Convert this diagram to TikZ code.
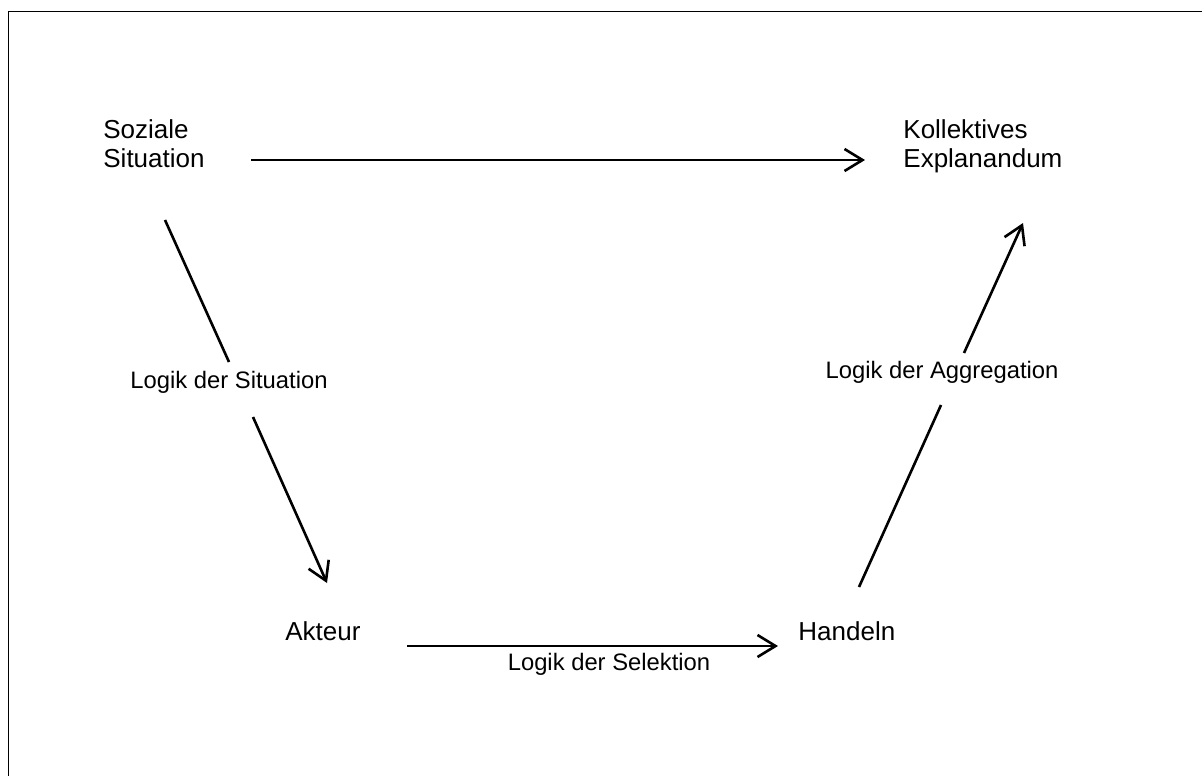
\documentclass[tikz,border=0pt]{standalone}
\usepackage{fontspec}
\setmainfont{Liberation Sans}
\usetikzlibrary{arrows.meta}
\tikzset{
  Linie/.style={line width=1.3pt}, % für Verbindungslinien
  Pfeil/.style={Linie,-{Straight Barb[length=9pt,width=11pt]}}, % für Pfeile
  Begriff/.style={anchor=base west,inner sep=0pt,align=left,
    font=\fontsize{13}{14.5}\selectfont}, % für die vier Begriffe
  Logik/.style={anchor=base,inner sep=0pt,font=\fontsize{11.9}{13}\selectfont} % für die Beschriftungen
}

\begin{document}
\begin{tikzpicture}[x=0.5pt,y=-0.5pt]
\useasboundingbox (0,0) rectangle (1202,776);

%Rahmen
\draw[line width=0.5pt] (8,776) -- (8,11) -- (1202,11);

%Begriffe (base = Grundlinie der letzten Zeile)
\node[Begriff] (SozSit) at (103,167) {Soziale\\Situation};
\node[Begriff] (KollExp) at (903,167) {Kollektives\\Explanandum};
\node[Begriff] (Akteur) at (285,640) {Akteur};
\node[Begriff] (Handeln) at (798,640) {Handeln};

%Beschriftungen
\node[Logik] (LogSit) at (229,388) {Logik der Situation};
\node[Logik] (LogSel) at (609,670) {Logik der Selektion};
\node[Logik] (LogAgg) at (942,378) {Logik der Aggregation};

%Endpunkte der Pfeile
\coordinate (oben-a) at (251,160);
\coordinate (oben-b) at (865,160);
\coordinate (unten-a) at (407,646);
\coordinate (unten-b) at (778,646);
\coordinate (sit-a) at (165,220);
\coordinate (sit-b) at (229,362);
\coordinate (sit-c) at (253,417);
\coordinate (sit-d) at (327,583);
\coordinate (agg-a) at (859,587);
\coordinate (agg-b) at (941,405);
\coordinate (agg-c) at (964,353);
\coordinate (agg-d) at (1023,223);

%Pfeile
\draw[Pfeil] (oben-a) -- (oben-b);
\draw[Pfeil] (unten-a) -- (unten-b);
\draw[Linie] (sit-a) -- (sit-b);
\draw[Pfeil] (sit-c) -- (sit-d);
\draw[Linie] (agg-a) -- (agg-b);
\draw[Pfeil] (agg-c) -- (agg-d);

\end{tikzpicture}
\end{document}
